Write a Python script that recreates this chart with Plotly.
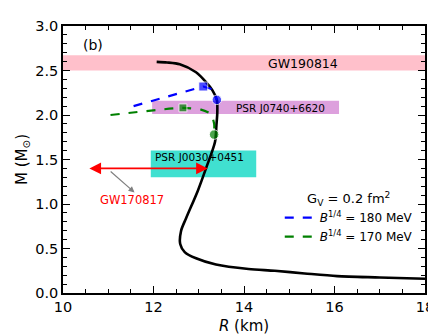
import plotly.graph_objects as go

# M-R relation (black curve)
r_curve = [12.07, 12.3, 12.58, 12.94, 13.16, 13.30, 13.40, 13.41, 13.39, 13.36,
           13.16, 12.98, 12.72, 12.61, 12.59, 12.69, 12.94, 13.38, 14.10, 14.68,
           15.34, 16.06, 17.0, 18.0]
m_curve = [2.597, 2.59, 2.57, 2.48, 2.37, 2.28, 2.17, 2.03, 1.88, 1.70,
           1.40, 1.15, 0.84, 0.70, 0.55, 0.46, 0.39, 0.32, 0.27, 0.25,
           0.22, 0.19, 0.175, 0.16]

# hybrid branches
r_b180 = [11.56, 13.10, 13.30, 13.40]
m_b180 = [2.10, 2.32, 2.29, 2.17]
r_b170 = [11.05, 12.65, 13.05, 13.27, 13.34, 13.34]
m_b170 = [2.00, 2.08, 2.06, 2.01, 1.90, 1.78]

# marker points (square: max mass, circle: transition)
sq180 = (13.10, 2.32)
ci180 = (13.40, 2.17)
sq170 = (12.65, 2.08)
ci170 = (13.34, 1.78)

# observational constraints
gw190814 = dict(r=(10, 18), m=(2.50, 2.67))
j0740 = dict(r=(11.97, 16.1), m=(2.01, 2.16))
j0030 = dict(r=(11.94, 14.27), m=(1.30, 1.60))
gw170817 = dict(r=(10.55, 13.2), m=1.40)

fig = go.Figure()

for band, col in [(gw190814, "#FFC0CB"), (j0740, "#DDA0DD"), (j0030, "#40E0D0")]:
    fig.add_shape(type="rect", x0=band["r"][0], x1=band["r"][1], y0=band["m"][0], y1=band["m"][1],
                  fillcolor=col, line_width=0, layer="below")

fig.add_trace(go.Scatter(x=r_curve, y=m_curve, mode="lines", line=dict(color="black", width=2.6, shape="spline",
                                                                      smoothing=0.8),
                         showlegend=False))
fig.add_trace(go.Scatter(x=r_b180, y=m_b180, mode="lines", line=dict(color="blue", width=2.2, dash="dash"),
                         name="<i>B</i><sup>1/4</sup> = 180 MeV"))
fig.add_trace(go.Scatter(x=r_b170, y=m_b170, mode="lines", line=dict(color="green", width=2.2, dash="dash",
                                                                    shape="spline", smoothing=0.6),
                         name="<i>B</i><sup>1/4</sup> = 170 MeV"))
fig.add_trace(go.Scatter(x=[sq180[0], ci180[0]], y=[sq180[1], ci180[1]], mode="markers",
                         marker=dict(color="blue", size=[9, 9.5], symbol=["square", "circle"]), showlegend=False))
fig.add_trace(go.Scatter(x=[sq170[0], ci170[0]], y=[sq170[1], ci170[1]], mode="markers",
                         marker=dict(color="green", size=[8, 9.5], symbol=["square", "circle"]), showlegend=False))

# GW170817 radius range
fig.add_annotation(x=gw170817["r"][1], y=gw170817["m"], ax=gw170817["r"][0], ay=gw170817["m"],
                   xref="x", yref="y", axref="x", ayref="y", text="", showarrow=True,
                   arrowhead=2, arrowside="end+start", arrowsize=1.3, arrowwidth=1.8, arrowcolor="red")
fig.add_annotation(x=11.58, y=1.13, ax=11.02, ay=1.38, xref="x", yref="y", axref="x", ayref="y",
                   text="", showarrow=True, arrowhead=2, arrowsize=1, arrowwidth=1.2, arrowcolor="gray")
fig.add_annotation(x=11.53, y=1.05, text="GW170817", showarrow=False, font=dict(color="red", size=11.5))

fig.add_annotation(x=15.3, y=2.575, text="GW190814", showarrow=False, font=dict(color="black", size=12.5))
fig.add_annotation(x=14.8, y=2.08, text="PSR J0740+6620", showarrow=False, font=dict(color="black", size=10.5))
fig.add_annotation(x=11.98, y=1.53, text="PSR J0030+0451", showarrow=False, xanchor="left",
                   font=dict(color="black", size=10.5))
fig.add_annotation(x=10.4, y=2.79, text="(b)", showarrow=False, xanchor="left", font=dict(color="black", size=14))

axis_common = dict(showline=True, linecolor="black", linewidth=1.5, mirror="ticks", ticks="inside",
                   ticklen=7, tickwidth=1.3, tickcolor="black", showgrid=False, zeroline=False,
                   tickfont=dict(size=14.5, color="black"))
fig.update_xaxes(range=[10, 18], dtick=2, tick0=10,
                 minor=dict(dtick=0.5, ticks="inside", ticklen=4, tickcolor="black", tickwidth=1),
                 title=dict(text="<i>R</i> (km)", font=dict(size=15, color="black"), standoff=6),
                 **axis_common)
fig.update_yaxes(range=[0, 3], dtick=0.5, tick0=0, tickformat=".1f",
                 minor=dict(dtick=0.1, ticks="inside", ticklen=4, tickcolor="black", tickwidth=1),
                 title=dict(text="M (M<sub>⊙</sub>)", font=dict(size=15, color="black"), standoff=4),
                 **axis_common)

fig.update_layout(
    width=436, height=334,
    margin=dict(l=55, r=14, t=10, b=46),
    plot_bgcolor="white", paper_bgcolor="white",
    font=dict(family="DejaVu Sans", color="black"),
    legend=dict(x=0.98, y=0.40, xanchor="right", yanchor="top", bgcolor="rgba(0,0,0,0)",
                font=dict(size=12), tracegroupgap=0, itemwidth=30,
                title=dict(text="G<sub>V</sub> = 0.2 fm<sup>2</sup>", side="top center", font=dict(size=13))),
)

fig.write_html("out.html")
